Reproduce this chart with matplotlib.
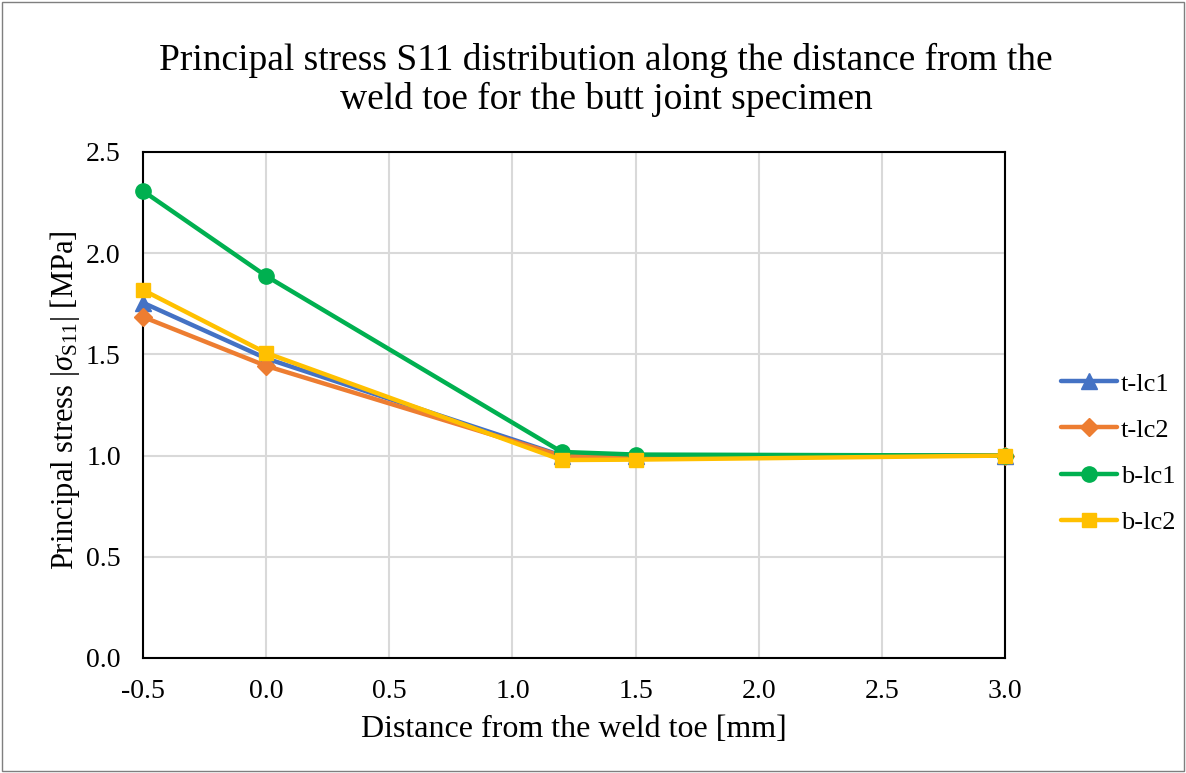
import matplotlib.pyplot as plt
from matplotlib.patches import Rectangle

plt.rcParams['font.family'] = ['Liberation Serif', 'DejaVu Serif']
plt.rcParams['mathtext.fontset'] = 'custom'
plt.rcParams['mathtext.rm'] = 'Liberation Serif'
plt.rcParams['mathtext.it'] = 'Liberation Serif:italic'

# Data
distance = [-0.5, 0.0, 1.2, 1.5, 3.0]
t_lc1 = [1.755, 1.48, 1.00, 1.00, 1.00]
t_lc2 = [1.685, 1.443, 0.998, 0.995, 1.00]
b_lc1 = [2.307, 1.887, 1.018, 1.005, 1.00]
b_lc2 = [1.818, 1.507, 0.978, 0.980, 1.00]

series = [
    ('t-lc1', t_lc1, '#4472C4', '^'),
    ('t-lc2', t_lc2, '#ED7D31', 'D'),
    ('b-lc1', b_lc1, '#00B050', 'o'),
    ('b-lc2', b_lc2, '#FFC000', 's'),
]

fig = plt.figure(figsize=(11.86, 7.73), dpi=100)
ax = fig.add_axes([0.1206, 0.1488, 0.7268, 0.6546])

for name, vals, color, marker in series:
    ms = {'^': 11, 'D': 9, 'o': 11, 's': 10.5}[marker]
    ax.plot(distance, vals, color=color, lw=3.2, marker=marker, markersize=ms,
            label=name, solid_capstyle='round', clip_on=False, zorder=4)

ax.set_xlim(-0.5, 3.0)
ax.set_ylim(0, 2.5)
ax.set_xticks([-0.5, 0.0, 0.5, 1.0, 1.5, 2.0, 2.5, 3.0])
ax.set_yticks([0.0, 0.5, 1.0, 1.5, 2.0, 2.5])
ax.set_xticklabels(['-0.5', '0.0', '0.5', '1.0', '1.5', '2.0', '2.5', '3.0'])
ax.set_yticklabels(['0.0', '0.5', '1.0', '1.5', '2.0', '2.5'])
ax.tick_params(length=0, labelsize=20)
ax.tick_params(axis='x', pad=15)
ax.tick_params(axis='y', pad=16)
ax.grid(True, color='#D9D9D9', lw=1.5)
ax.set_axisbelow(True)
for sp in ax.spines.values():
    sp.set_color('black')
    sp.set_linewidth(1.5)
    sp.set_zorder(3)

ax.set_xlabel('Distance from the weld toe [mm]', fontsize=23, labelpad=8)
ax.set_ylabel(r'Principal stress |$\sigma_{\mathrm{S11}}$| [MPa]', fontsize=22)
ax.yaxis.set_label_coords(-0.071, 0.51)
fig.text(0.511, 0.8965, 'Principal stress S11 distribution along the distance from the\n'
         'weld toe for the butt joint specimen',
         ha='center', va='center', fontsize=27, linespacing=1.12)

ax.legend(loc='center left', bbox_to_anchor=(1.053, 0.405), frameon=False,
          fontsize=19, handlelength=2.1, labelspacing=0.86, handletextpad=0.15,
          borderaxespad=0)

fig.patches.append(Rectangle((0.002, 0.002), 0.996, 0.996, transform=fig.transFigure,
                             fill=False, edgecolor='#7F7F7F', lw=1))

fig.savefig('out.png', dpi=100)
